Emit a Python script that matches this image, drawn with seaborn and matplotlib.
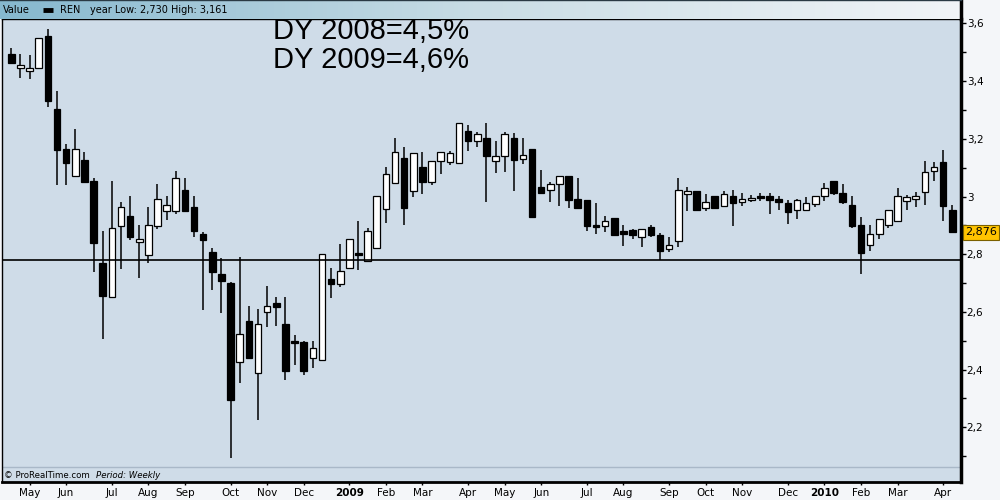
import numpy as np
import pandas as pd
import seaborn as sns
import matplotlib.pyplot as plt
from matplotlib.ticker import FuncFormatter, MultipleLocator

# weekly candles REN, week of 21 Apr 2008 -> week of 12 Apr 2010
dates = pd.date_range("2008-04-21", periods=104, freq="W-MON")

opens = [3.494, 3.444, 3.434, 3.444, 3.556, 3.303, 3.164, 3.070, 3.125, 3.054,
         2.770, 2.651, 2.899, 2.931, 2.843, 2.796, 2.899, 2.951, 2.951, 3.023,
         2.964, 2.870, 2.808, 2.731, 2.700, 2.427, 2.568, 2.387, 2.599, 2.630,
         2.557, 2.498, 2.495, 2.439, 2.432, 2.713, 2.698, 2.751, 2.803, 2.776,
         2.820, 2.956, 3.046, 3.132, 3.018, 3.101, 3.051, 3.122, 3.119, 3.115,
         3.226, 3.191, 3.202, 3.122, 3.139, 3.202, 3.129, 3.164, 3.032, 3.021,
         3.042, 3.070, 2.990, 2.987, 2.900, 2.899, 2.925, 2.880, 2.884, 2.861,
         2.893, 2.866, 2.819, 2.847, 3.008, 3.018, 2.961, 3.001, 2.968, 3.001,
         2.980, 2.987, 3.002, 3.002, 2.990, 2.976, 2.952, 2.952, 2.973, 3.001,
         3.053, 3.012, 2.969, 2.900, 2.831, 2.869, 2.900, 2.914, 2.983, 2.990,
         3.015, 3.087, 3.119, 2.952]
highs = [3.515, 3.494, 3.490, 3.550, 3.581, 3.366, 3.181, 3.234, 3.154, 3.063,
         2.880, 3.053, 2.981, 3.002, 2.901, 2.963, 3.043, 3.002, 3.088, 3.064,
         3.002, 2.877, 2.820, 2.787, 2.702, 2.789, 2.620, 2.609, 2.690, 2.652,
         2.652, 2.520, 2.499, 2.499, 2.802, 2.751, 2.835, 2.854, 2.915, 2.890,
         3.003, 3.101, 3.203, 3.172, 3.152, 3.154, 3.124, 3.155, 3.157, 3.256,
         3.248, 3.224, 3.255, 3.191, 3.223, 3.219, 3.202, 3.166, 3.091, 3.049,
         3.072, 3.072, 3.063, 2.989, 2.977, 2.932, 2.927, 2.901, 2.886, 2.888,
         2.901, 2.873, 2.860, 3.064, 3.032, 3.020, 3.009, 3.003, 3.018, 3.023,
         3.011, 3.004, 3.012, 3.012, 3.001, 2.987, 2.990, 2.997, 3.003, 3.047,
         3.055, 3.043, 3.001, 2.928, 2.900, 2.923, 2.954, 3.028, 3.004, 3.015,
         3.122, 3.119, 3.161, 2.969]
lows = [3.462, 3.412, 3.407, 3.442, 3.311, 3.041, 3.041, 3.068, 3.049, 2.739,
        2.507, 2.649, 2.750, 2.850, 2.719, 2.768, 2.888, 2.919, 2.939, 2.949,
        2.861, 2.608, 2.677, 2.597, 2.095, 2.355, 2.439, 2.226, 2.549, 2.552,
        2.364, 2.416, 2.381, 2.407, 2.430, 2.649, 2.687, 2.749, 2.746, 2.774,
        2.818, 2.909, 3.044, 2.902, 2.999, 3.010, 3.041, 3.079, 3.110, 3.113,
        3.157, 3.171, 2.980, 3.080, 3.084, 3.020, 3.114, 2.928, 3.009, 2.982,
        2.968, 2.961, 2.958, 2.881, 2.871, 2.878, 2.864, 2.829, 2.853, 2.825,
        2.861, 2.780, 2.809, 2.826, 2.951, 2.952, 2.951, 2.959, 2.966, 2.899,
        2.968, 2.980, 2.985, 2.940, 2.953, 2.906, 2.923, 2.950, 2.965, 2.983,
        3.004, 2.973, 2.890, 2.730, 2.810, 2.852, 2.890, 2.912, 2.953, 2.965,
        2.969, 3.053, 2.914, 2.876]
closes = [3.464, 3.455, 3.444, 3.548, 3.332, 3.162, 3.117, 3.164, 3.051, 2.840,
          2.656, 2.890, 2.963, 2.861, 2.852, 2.900, 2.990, 2.970, 3.063, 2.951,
          2.881, 2.850, 2.739, 2.708, 2.296, 2.522, 2.441, 2.557, 2.619, 2.618,
          2.396, 2.493, 2.396, 2.474, 2.800, 2.698, 2.741, 2.852, 2.798, 2.879,
          3.001, 3.077, 3.153, 2.961, 3.150, 3.051, 3.122, 3.153, 3.150, 3.254,
          3.193, 3.216, 3.141, 3.139, 3.216, 3.128, 3.143, 2.930, 3.011, 3.042,
          3.070, 2.989, 2.961, 2.899, 2.895, 2.914, 2.868, 2.871, 2.868, 2.886,
          2.868, 2.812, 2.831, 3.021, 3.018, 2.954, 2.980, 2.961, 3.008, 2.979,
          2.990, 2.996, 2.996, 2.989, 2.980, 2.947, 2.987, 2.976, 3.001, 3.028,
          3.011, 2.980, 2.899, 2.805, 2.869, 2.921, 2.952, 3.001, 2.997, 3.001,
          3.084, 3.101, 2.966, 2.876]

support_level = 2.779
dy_lines = ["DY 2008=4,5%", "DY 2009=4,6%"]

df = pd.DataFrame({"date": dates, "open": opens, "high": highs,
                   "low": lows, "close": closes})
df["x"] = np.arange(len(df))
df["up"] = df["close"] >= df["open"]


def fr(v, nd=3):
    return f"{v:.{nd}f}".replace(".", ",")


sns.set_style("ticks")
plt.rcParams["font.family"] = ["DejaVu Sans"]
plt.rcParams["text.color"] = "black"

fig = plt.figure(figsize=(10, 5), dpi=100, facecolor="#f4f6f9")
ax = fig.add_axes([0.002, 0.036, 0.959, 0.926])
ax.set_facecolor("#cfdce8")

# wicks then bodies
ax.vlines(df["x"], df["low"], df["high"], color="black", lw=1.1, zorder=2)
body_lo = df[["open", "close"]].min(axis=1)
body_h = (df["close"] - df["open"]).abs().clip(lower=0.004)
ax.bar(df["x"], body_h, bottom=body_lo, width=0.72,
       color=np.where(df["up"], "white", "black"), edgecolor="black",
       lw=0.9, zorder=3)

ax.axhline(support_level, color="black", lw=1.2, zorder=4)
ax.axhline(2.063, color="#a9b8c8", lw=1.0, zorder=1)

ax.set_xlim(-1.02, 103.95)
ax.set_ylim(2.0104, 3.6153)

# right price axis
ax.yaxis.tick_right()
ax.yaxis.set_major_locator(MultipleLocator(0.2))
ax.yaxis.set_minor_locator(MultipleLocator(0.1))
ax.yaxis.set_major_formatter(FuncFormatter(
    lambda v, p: f"{v:.1f}".rstrip("0").rstrip(".").replace(".", ",")))
ax.tick_params(axis="y", which="both", length=3.6, width=1, pad=0.5,
               labelsize=7.5, colors="black", right=True, left=False)

# month ticks: first weekly candle of each month
month_start = df[df["date"].dt.month != df["date"].dt.month.shift()].iloc[1:]
ax.set_xticks(month_start["x"])
ax.set_xticklabels([str(d.year) if d.month == 1 else d.strftime("%b")
                    for d in month_start["date"]])
for lab, d in zip(ax.get_xticklabels(), month_start["date"]):
    if d.month == 1:
        lab.set_fontweight("bold")
ax.tick_params(axis="x", length=2.5, width=1, pad=2, labelsize=7.5,
               colors="black")

for side, w in [("left", 1.0), ("bottom", 2.0), ("right", 2.5), ("top", 1.0)]:
    ax.spines[side].set_visible(True)
    ax.spines[side].set_linewidth(w)
    ax.spines[side].set_color("black")

# last price box
ax.annotate(fr(closes[-1]), xy=(1, closes[-1]),
            xycoords=("axes fraction", "data"), xytext=(3, 0),
            textcoords="offset points", va="center", ha="left", fontsize=8,
            bbox=dict(boxstyle="square,pad=0.2", fc="#ffc400", ec="#7a6000",
                      lw=0.8), annotation_clip=False, zorder=6)

# big yield notes
fig.text(0.273, 0.922, dy_lines[0], fontsize=21, family="Liberation Sans",
         va="baseline", color="black", zorder=1)
fig.text(0.273, 0.8634, dy_lines[1], fontsize=21, family="Liberation Sans",
         va="baseline", color="black", zorder=1)

# header strip
ax_h = fig.add_axes([0.0, 0.962, 0.961, 0.038], zorder=5)
grad = np.linspace(0, 1, 256).reshape(1, -1)
cmap = sns.blend_palette(["#86b8cf", "#c9dde5", "#f1f4f7"], as_cmap=True)
ax_h.imshow(grad, aspect="auto", cmap=cmap, extent=[0, 1, 0, 1])
ax_h.set_xlim(0, 1)
ax_h.set_ylim(0, 1)
ax_h.set_xticks([])
ax_h.set_yticks([])
for side in ["left", "bottom"]:
    ax_h.spines[side].set_visible(False)
ax_h.spines["top"].set_color("#2a3a44")
ax_h.spines["top"].set_linewidth(1.0)
ax_h.spines["right"].set_linewidth(2.5)
ax_h.spines["right"].set_color("black")

yr = df[df["date"].dt.year == df["date"].dt.year.max()]
ax_h.text(3 / 961, 0.45, "Value", fontsize=7, va="center")
ax_h.plot([43 / 961, 53 / 961], [0.45, 0.45], color="black", lw=3.5,
          solid_capstyle="butt")
ax_h.text(60 / 961, 0.45, "REN", fontsize=7, va="center")
ax_h.text(90 / 961, 0.45,
          f"year Low: {fr(yr['low'].min())} High: {fr(yr['high'].max())}",
          fontsize=7, va="center")

# footer
fig.text(0.004, 0.05, "\u00a9 ProRealTime.com", fontsize=6.2, va="center")
fig.text(0.096, 0.05, "Period: Weekly", fontsize=6.2, style="italic",
         va="center")

fig.savefig("out.png", dpi=100, facecolor=fig.get_facecolor())
